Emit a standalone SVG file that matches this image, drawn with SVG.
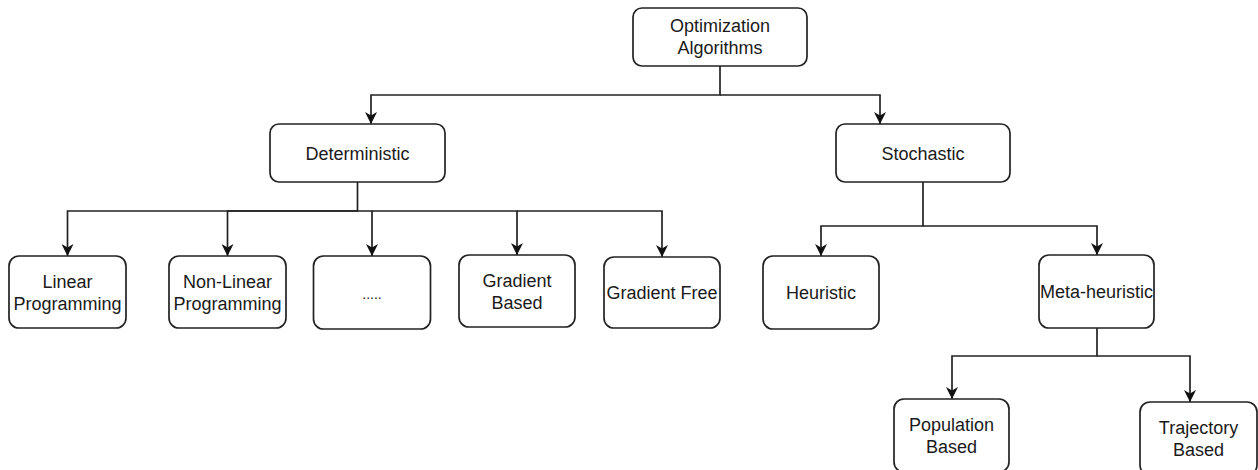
<svg xmlns="http://www.w3.org/2000/svg" width="1258" height="470" viewBox="0 0 1258 470">
<defs>
<marker id="arr" viewBox="0 0 10 10" refX="10" refY="5" markerWidth="12" markerHeight="12" markerUnits="userSpaceOnUse" orient="auto">
<path d="M0,0 L10,5 L0,10 L3,5 Z" fill="#111" stroke="none"/>
</marker>
<style>
.box{fill:#fff;stroke:#222;stroke-width:1.7}
.t{font-family:"Liberation Sans",Arial,sans-serif;font-size:18px;fill:#1a1a1a;text-anchor:middle}
.c{fill:none;stroke:#222;stroke-width:1.7}
</style>
</defs>
<rect width="1258" height="470" fill="#fff"/>
<g id="connectors">
<path class="c" d="M720,66 V95 H371 V124" marker-end="url(#arr)"/>
<path class="c" d="M720,95 H880 V124" marker-end="url(#arr)"/>
<path class="c" d="M357.5,182 V211 H67.5 V256" marker-end="url(#arr)"/>
<path class="c" d="M357.5,211 H227.5 V256" marker-end="url(#arr)"/>
<path class="c" d="M357.5,211 H372 V256" marker-end="url(#arr)"/>
<path class="c" d="M372,211 H517 V255" marker-end="url(#arr)"/>
<path class="c" d="M517,211 H662 V257" marker-end="url(#arr)"/>
<path class="c" d="M923,182 V226 H821 V256" marker-end="url(#arr)"/>
<path class="c" d="M923,226 H1097 V255" marker-end="url(#arr)"/>
<path class="c" d="M1097,328 V356 H952 V399" marker-end="url(#arr)"/>
<path class="c" d="M1097,356 H1190 V402" marker-end="url(#arr)"/>
</g>
<g id="n-opt"><rect class="box" x="633" y="8" width="174" height="58" rx="9"/><text class="t" x="720" y="32">Optimization</text><text class="t" x="720" y="54">Algorithms</text></g>
<g id="n-det"><rect class="box" x="270" y="124" width="175" height="58" rx="9"/><text class="t" x="357.5" y="159.5">Deterministic</text></g>
<g id="n-sto"><rect class="box" x="836" y="124" width="174" height="58" rx="9"/><text class="t" x="923" y="159.5">Stochastic</text></g>
<g id="n-lin"><rect class="box" x="9" y="256" width="117" height="72" rx="10"/><text class="t" x="67.5" y="288">Linear</text><text class="t" x="67.5" y="309.5">Programming</text></g>
<g id="n-nonlin"><rect class="box" x="169" y="256" width="117" height="72" rx="10"/><text class="t" x="227.5" y="288">Non-Linear</text><text class="t" x="227.5" y="309.5">Programming</text></g>
<g id="n-dots"><rect class="box" x="313.5" y="256" width="117" height="73" rx="10"/><text class="t" x="372" y="298.5" style="font-size:14px">.....</text></g>
<g id="n-gb"><rect class="box" x="459" y="255" width="116" height="72" rx="10"/><text class="t" x="517" y="287">Gradient</text><text class="t" x="517" y="308.5">Based</text></g>
<g id="n-gf"><rect class="box" x="604" y="257" width="116" height="71" rx="10"/><text class="t" x="662" y="299">Gradient Free</text></g>
<g id="n-heu"><rect class="box" x="763" y="256" width="116" height="73" rx="10"/><text class="t" x="821" y="299">Heuristic</text></g>
<g id="n-meta"><rect class="box" x="1039" y="255" width="115" height="73" rx="10"/><text class="t" x="1096.5" y="298">Meta-heuristic</text></g>
<g id="n-pop"><rect class="box" x="894" y="399" width="115" height="73" rx="10"/><text class="t" x="951.5" y="431">Population</text><text class="t" x="951.5" y="452.5">Based</text></g>
<g id="n-traj"><rect class="box" x="1140" y="402" width="117" height="73" rx="10"/><text class="t" x="1198.5" y="434">Trajectory</text><text class="t" x="1198.5" y="455.5">Based</text></g>
</svg>
